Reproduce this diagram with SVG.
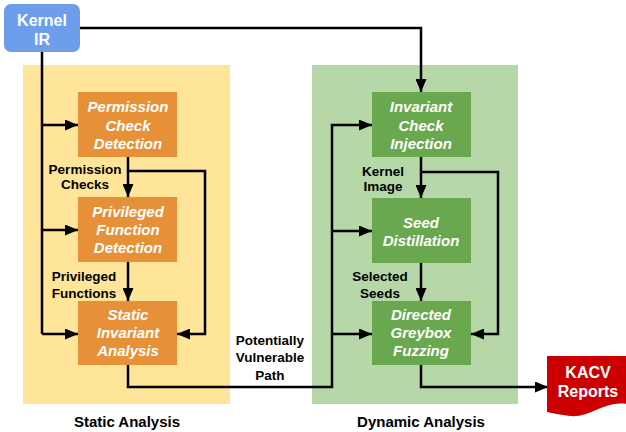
<svg xmlns="http://www.w3.org/2000/svg" width="626" height="432" viewBox="0 0 626 432">
<style>
.t{font-family:"Liberation Sans",Arial,sans-serif;font-weight:bold;text-anchor:middle}
.w{fill:#ffffff;font-size:15px;font-style:italic}
.lb{fill:#000000;font-size:13.5px}
.cap{fill:#000000;font-size:15px}
.ln{fill:none;stroke:#000000;stroke-width:2.5;stroke-linejoin:miter}
.ob{fill:#e69138}
.gb{fill:#6aa84f}
</style>
<defs>
<marker id="ah" markerWidth="13" markerHeight="11" refX="13" refY="5.5" orient="auto" markerUnits="userSpaceOnUse">
<path d="M0,0 L13,5.5 L0,11 Z" fill="#000000"/>
</marker>
</defs>
<rect x="0" y="0" width="626" height="432" fill="#ffffff"/>
<g id="static-bg">
<rect x="23" y="65" width="207" height="339" fill="#ffe599"/>
<text class="t cap" x="127" y="427">Static Analysis</text>
</g>
<g id="dynamic-bg">
<rect x="312" y="65" width="206" height="339" fill="#b6d7a8"/>
<text class="t cap" x="421" y="427">Dynamic Analysis</text>
</g>
<g id="connectors">
<path class="ln" d="M42,52 V334"/>
<path class="ln" d="M42,125 H78" marker-end="url(#ah)"/>
<path class="ln" d="M42,230 H78" marker-end="url(#ah)"/>
<path class="ln" d="M42,334 H78" marker-end="url(#ah)"/>
<path class="ln" d="M128,157 V197" marker-end="url(#ah)"/>
<path class="ln" d="M128,171 H205 V334 H177" marker-end="url(#ah)"/>
<path class="ln" d="M128,262 V301" marker-end="url(#ah)"/>
<path class="ln" d="M128,365 V387 H332 V125 H372" marker-end="url(#ah)"/>
<path class="ln" d="M332,231 H372" marker-end="url(#ah)"/>
<path class="ln" d="M332,334 H372" marker-end="url(#ah)"/>
<path class="ln" d="M80,28 H421 V92" marker-end="url(#ah)"/>
<path class="ln" d="M421,157 V198" marker-end="url(#ah)"/>
<path class="ln" d="M421,172 H498 V334 H471" marker-end="url(#ah)"/>
<path class="ln" d="M421,263 V301" marker-end="url(#ah)"/>
<path class="ln" d="M421,365 V387 H548" marker-end="url(#ah)"/>
<text class="t lb" x="85" y="174">Permission</text>
<text class="t lb" x="85" y="189">Checks</text>
<text class="t lb" x="84" y="281">Privileged</text>
<text class="t lb" x="84" y="298">Functions</text>
<text class="t lb" x="270" y="345">Potentially</text>
<text class="t lb" x="270" y="362">Vulnerable</text>
<text class="t lb" x="270" y="380">Path</text>
<text class="t lb" x="383" y="176">Kernel</text>
<text class="t lb" x="383" y="191">Image</text>
<text class="t lb" x="380" y="281">Selected</text>
<text class="t lb" x="380" y="298">Seeds</text>
</g>
<g id="kernel-ir">
<rect x="4" y="4" width="76" height="48" rx="7" fill="#6d9eeb"/>
<text class="t" x="42" y="26" fill="#ffffff" font-size="16">Kernel</text>
<text class="t" x="42" y="45" fill="#ffffff" font-size="16">IR</text>
</g>
<g id="permission-check-detection">
<rect class="ob" x="78" y="92" width="99" height="65"/>
<text class="t w" x="128" y="112">Permission</text>
<text class="t w" x="128" y="131">Check</text>
<text class="t w" x="128" y="149">Detection</text>
</g>
<g id="privileged-function-detection">
<rect class="ob" x="78" y="197" width="99" height="65"/>
<text class="t w" x="128" y="217">Privileged</text>
<text class="t w" x="128" y="235">Function</text>
<text class="t w" x="128" y="253">Detection</text>
</g>
<g id="static-invariant-analysis">
<rect class="ob" x="78" y="301" width="99" height="64"/>
<text class="t w" x="128" y="320">Static</text>
<text class="t w" x="128" y="338">Invariant</text>
<text class="t w" x="128" y="356">Analysis</text>
</g>
<g id="invariant-check-injection">
<rect class="gb" x="372" y="92" width="99" height="65"/>
<text class="t w" x="421" y="112">Invariant</text>
<text class="t w" x="421" y="131">Check</text>
<text class="t w" x="421" y="149">Injection</text>
</g>
<g id="seed-distillation">
<rect class="gb" x="372" y="198" width="99" height="65"/>
<text class="t w" x="421" y="228">Seed</text>
<text class="t w" x="421" y="246">Distillation</text>
</g>
<g id="directed-greybox-fuzzing">
<rect class="gb" x="372" y="301" width="99" height="64"/>
<text class="t w" x="421" y="320">Directed</text>
<text class="t w" x="421" y="338">Greybox</text>
<text class="t w" x="421" y="356">Fuzzing</text>
</g>
<g id="kacv-reports">
<path d="M547,356 H627 V404 C605,400 590,418 570,416 C560,415 553,413 547,412 Z" fill="#cc0000"/>
<text class="t" x="588" y="378" fill="#ffffff" font-size="16">KACV</text>
<text class="t" x="588" y="397" fill="#ffffff" font-size="16">Reports</text>
</g>
</svg>
